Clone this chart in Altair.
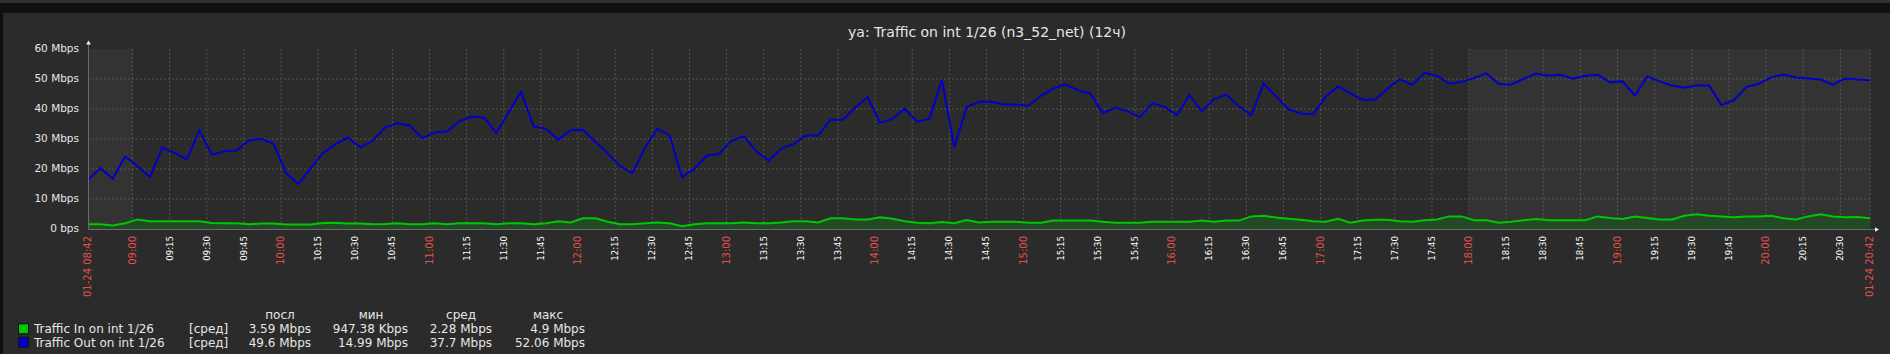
import altair as alt
import pandas as pd

# ---------------- data ----------------
title_text = "ya: Traffic on int 1/26 (n3_52_net) (12ч)"
start_clock = "08:42"
step_minutes = 5

traffic_out = [
    16.4, 20.3, 16.8, 24.2, 20.9, 17.3, 27.2, 25.3, 23.3, 32.8,
    24.8, 25.8, 26.2, 29.5, 30.1, 28.3, 18.7, 14.99, 20.3, 25.3,
    28.3, 30.5, 27.2, 29.4, 33.8, 35.2, 34.5, 30.3, 32.2, 32.5,
    35.9, 37.5, 37.1, 32.0, 38.9, 45.7, 34.2, 33.4, 29.8, 32.9,
    33.1, 29.0, 25.3, 20.9, 18.7, 27.0, 33.5, 31.2, 17.3, 20.0,
    24.4, 25.1, 29.4, 30.9, 25.9, 22.8, 26.7, 28.3, 31.2, 31.2,
    36.4, 36.4, 40.5, 43.9, 35.4, 36.7, 40.1, 35.8, 36.8, 49.8,
    27.3, 40.7, 42.4, 42.4, 41.5, 41.5, 41.1, 44.4, 46.8, 48.2,
    46.2, 45.1, 38.7, 40.4, 39.3, 37.3, 41.9, 40.7, 38.0, 44.7,
    39.3, 43.3, 44.8, 40.9, 38.0, 48.4, 44.2, 39.9, 38.5, 38.2,
    44.0, 47.5, 45.3, 43.1, 43.1, 46.8, 49.9, 48.1, 52.06, 51.1,
    48.4, 49.1, 50.3, 51.9, 48.4, 48.1, 50.0, 51.8, 51.1, 51.4,
    50.1, 51.1, 51.4, 48.9, 49.2, 44.5, 50.8, 49.2, 47.8, 47.1,
    47.8, 47.8, 41.3, 42.9, 47.3, 48.4, 50.5, 51.5, 50.5, 50.2,
    49.8, 48.1, 50.2, 49.8, 49.6,
]

traffic_in = [
    1.6, 1.6, 1.2, 1.9, 3.2, 2.6, 2.6, 2.6, 2.6, 2.6,
    2.0, 1.9, 1.9, 1.6, 1.8, 1.8, 1.5, 1.5, 1.5, 2.0,
    2.1, 1.8, 1.8, 1.6, 1.7, 1.9, 1.6, 1.6, 1.9, 1.6,
    1.9, 1.9, 1.9, 1.6, 1.9, 1.9, 1.6, 1.9, 2.6, 2.2,
    3.6, 3.6, 2.4, 1.6, 1.6, 1.9, 2.2, 1.9, 0.95, 1.6,
    1.9, 1.9, 1.9, 2.2, 1.9, 1.9, 2.2, 2.6, 2.6, 2.2,
    3.6, 3.6, 3.2, 3.2, 3.9, 3.4, 2.6, 2.1, 1.9, 2.3,
    1.9, 3.0, 2.2, 2.4, 2.4, 2.4, 2.1, 2.1, 2.8, 2.8,
    2.8, 2.8, 2.4, 2.1, 2.1, 2.1, 2.4, 2.4, 2.4, 2.4,
    2.8, 2.4, 2.8, 2.8, 4.2, 4.4, 3.8, 3.4, 3.1, 2.6,
    2.4, 3.4, 2.1, 2.8, 3.1, 3.1, 2.6, 2.4, 2.9, 3.2,
    4.2, 4.2, 2.9, 2.9, 2.1, 2.4, 2.9, 3.3, 2.9, 2.9,
    2.9, 2.9, 4.2, 3.7, 3.3, 4.2, 3.7, 3.2, 3.2, 4.4,
    4.9, 4.4, 4.2, 3.9, 4.2, 4.2, 4.4, 3.6, 3.2, 4.2,
    4.9, 4.2, 3.9, 4.0, 3.59,
]

y_tick_values = [0, 10, 20, 30, 40, 50, 60]
y_tick_labels = ["0 bps", "10 Mbps", "20 Mbps", "30 Mbps", "40 Mbps", "50 Mbps", "60 Mbps"]
y_grid_values = [10, 20, 30, 40, 50]

x_tick_labels = [
    "01-24 08:42",
    "09:00", "09:15", "09:30", "09:45", "10:00", "10:15", "10:30", "10:45",
    "11:00", "11:15", "11:30", "11:45", "12:00", "12:15", "12:30", "12:45",
    "13:00", "13:15", "13:30", "13:45", "14:00", "14:15", "14:30", "14:45",
    "15:00", "15:15", "15:30", "15:45", "16:00", "16:15", "16:30", "16:45",
    "17:00", "17:15", "17:30", "17:45", "18:00", "18:15", "18:30", "18:45",
    "19:00", "19:15", "19:30", "19:45", "20:00", "20:15", "20:30",
    "01-24 20:42",
]

nonwork_periods = [("08:42", "09:00"), ("18:00", "20:42")]

legend_headers = ["посл", "мин", "сред", "макс"]
legend_names = ["Traffic In on int 1/26", "Traffic Out on int 1/26"]
legend_colors = ["#00c800", "#0000c8"]
legend_func = ["[сред]", "[сред]"]
legend_last = ["3.59 Mbps", "49.6 Mbps"]
legend_min = ["947.38 Kbps", "14.99 Mbps"]
legend_avg = ["2.28 Mbps", "37.7 Mbps"]
legend_max = ["4.9 Mbps", "52.06 Mbps"]

# ---------------- helpers ----------------
def clock_to_min(s):
    hh, mm = s[-5:].split(":")
    h0, m0 = start_clock.split(":")
    return int(hh) * 60 + int(mm) - (int(h0) * 60 + int(m0))

W, H = 1782, 180
FONT = "DejaVu Sans"
TEXT = "#e6e6e6"
RED = "#e4504c"
BG = "#2b2b2b"

xs = alt.Scale(domain=[0, 720], nice=False, zero=False)
ys = alt.Scale(domain=[0, 60], nice=False)

series = pd.DataFrame({
    "t": [i * step_minutes for i in range(len(traffic_out))],
    "out": traffic_out,
    "inn": traffic_in,
})

ticks_df = pd.DataFrame({
    "label": x_tick_labels,
    "t": [clock_to_min(s) for s in x_tick_labels],
})
ticks_df["major"] = ticks_df["label"].apply(lambda s: s.endswith(":00") or len(s) > 5)

nonwork_df = pd.DataFrame({
    "s": [clock_to_min(a) for a, b in nonwork_periods],
    "e": [clock_to_min(b) for a, b in nonwork_periods],
})

one = alt.Data(values=[{"k": 0}])


def rect(x, x2, y, y2, fill):
    return alt.Chart(one).mark_rect(fill=fill).encode(
        x=alt.value(x), x2=alt.value(x2), y=alt.value(y), y2=alt.value(y2))


def txt(s, x, y, size=12, color=TEXT, align="left", baseline="alphabetic"):
    return alt.Chart(alt.Data(values=[{"s": s}])).mark_text(
        align=align, baseline=baseline, fontSize=size, color=color, font=FONT
    ).encode(x=alt.value(x), y=alt.value(y), text="s:N")


layers = []

# frame strips (page chrome)
layers.append(rect(-88, W + 20, -49, -46, "#303030"))
layers.append(rect(-88, W + 20, -46, -36, "#0f1012"))
layers.append(rect(-88, -85, -36, 305, "#0f1012"))

# non-working time shading
layers.append(alt.Chart(nonwork_df).mark_rect(fill="#333333").encode(
    x=alt.X("s:Q", scale=xs, axis=None), x2="e:Q",
    y=alt.value(0), y2=alt.value(H)))

# grid lines
layers.append(alt.Chart(pd.DataFrame({"v": y_grid_values})).mark_rule(
    color="#555555", strokeDash=[2, 2], strokeWidth=1).encode(
    y=alt.Y("v:Q", scale=ys, axis=None), x=alt.value(0), x2=alt.value(W)))
layers.append(alt.Chart(ticks_df[ticks_df["t"] > 0]).mark_rule(
    color="#555555", strokeDash=[2, 2], strokeWidth=1).encode(
    x=alt.X("t:Q", scale=xs, axis=None), y=alt.value(0), y2=alt.value(H)))

# series
layers.append(alt.Chart(series).mark_area(color="#234a27", opacity=1).encode(
    x=alt.X("t:Q", scale=xs, axis=None), y=alt.Y("inn:Q", scale=ys, axis=None)))
layers.append(alt.Chart(series).mark_line(color="#00c800", strokeWidth=2).encode(
    x=alt.X("t:Q", scale=xs, axis=None), y=alt.Y("inn:Q", scale=ys, axis=None)))
layers.append(alt.Chart(series).mark_line(color="#0000c8", strokeWidth=2).encode(
    x=alt.X("t:Q", scale=xs, axis=None), y=alt.Y("out:Q", scale=ys, axis=None)))

# axis lines and arrows
layers.append(alt.Chart(one).mark_rule(color="#6a6a6a", strokeWidth=1).encode(
    x=alt.value(0.5), y=alt.value(-5), y2=alt.value(H + 0.5)))
layers.append(alt.Chart(one).mark_rule(color="#6a6a6a", strokeWidth=1).encode(
    y=alt.value(H + 0.5), x=alt.value(0), x2=alt.value(W + 5)))
layers.append(alt.Chart(one).mark_point(shape="triangle-up", filled=True, size=22,
                                        color="#f0f0f0", opacity=1).encode(
    x=alt.value(0.5), y=alt.value(-6.5)))
layers.append(alt.Chart(one).mark_point(shape="triangle-right", filled=True, size=22,
                                        color="#f0f0f0", opacity=1).encode(
    x=alt.value(W + 7), y=alt.value(H + 0.5)))

# y labels
layers.append(alt.Chart(pd.DataFrame({"v": y_tick_values, "label": y_tick_labels})).mark_text(
    align="right", baseline="middle", fontSize=10.5, color=TEXT, font=FONT).encode(
    y=alt.Y("v:Q", scale=ys, axis=None), x=alt.value(-9), text="label:N"))

# x labels
layers.append(alt.Chart(ticks_df[~ticks_df["major"]]).mark_text(
    align="right", baseline="middle", angle=270, fontSize=8.6, color="#ffffff", font=FONT).encode(
    x=alt.X("t:Q", scale=xs, axis=None), y=alt.value(187), text="label:N"))
layers.append(alt.Chart(ticks_df[ticks_df["major"]]).mark_text(
    align="right", baseline="middle", angle=270, fontSize=10, color=RED, font=FONT).encode(
    x=alt.X("t:Q", scale=xs, axis=None), y=alt.value(187), text="label:N"))

# title
layers.append(txt(title_text, 899, -12, size=14, align="center"))

# legend
hdr_x = [280, 371, 461, 548]
for h, hx in zip(legend_headers, hdr_x):
    layers.append(txt(h, hx - 88, 319.3 - 49, align="center"))
row_base = [333.3, 346.7]
for r in range(2):
    yb = row_base[r] - 49
    layers.append(alt.Chart(one).mark_rect(fill=legend_colors[r], stroke="#111111", strokeWidth=1).encode(
        x=alt.value(18.5 - 88), x2=alt.value(28.5 - 88), y=alt.value(yb - 9.5), y2=alt.value(yb + 0.5)))
    layers.append(txt(legend_names[r], 34 - 88, yb))
    layers.append(txt(legend_func[r], 189 - 88, yb))
    layers.append(txt(legend_last[r], 311 - 88, yb, align="right"))
    layers.append(txt(legend_min[r], 408 - 88, yb, align="right"))
    layers.append(txt(legend_avg[r], 492 - 88, yb, align="right"))
    layers.append(txt(legend_max[r], 585 - 88, yb, align="right"))

chart = alt.layer(*layers).properties(
    width=W, height=H,
    autosize=alt.AutoSizeParams(type="none"),
    padding={"left": 88, "top": 49, "right": 20, "bottom": 125},
    background=BG,
).configure_view(stroke=None, fill=None)

chart.save("out.html", embed_options={"renderer": "svg", "actions": False})
